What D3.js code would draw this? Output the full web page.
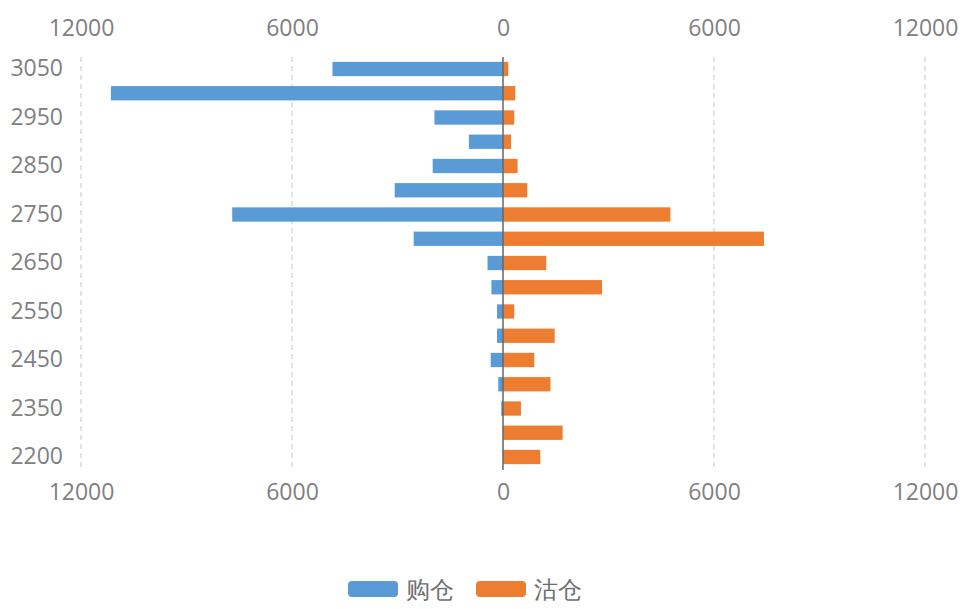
<!DOCTYPE html>
<html>
<head>
<meta charset="utf-8">
<script src="https://cdn.jsdelivr.net/npm/d3@7"></script>
<style>
    body { margin: 0; background: #fff; }
    svg text { font-family: "Open Sans", "Noto Sans", sans-serif; }
</style>
</head>
<body>
<div id="container"><svg></svg></div>
<script>
// data
let categories = ['3050', '3000', '2950', '2900', '2850', '2800', '2750', '2700', '2650',
    '2600', '2550', '2500', '2450', '2400', '2350', '2300', '2200'];
let buy_values = [4850, 11150, 1950, 970, 2000, 3080, 7700, 2540, 440,
    330, 170, 170, 350, 135, 50, 0, 0];
let sell_values = [150, 350, 320, 230, 415, 690, 4760, 7420, 1230,
    2815, 320, 1470, 890, 1350, 510, 1695, 1060];
let tick_values = [0, 6000, 12000];
let series_names = ['购仓', '沽仓'];
let colors = ['#5b9bd5', '#ed7d31'];

let width = 963, height = 609;
let zero_x = 503, left_x = 81, right_x = 925;
let top_y = 57, bottom_y = 469;
let text_color = '#808080';

function draw_main() {
    let svg = d3.select('#container').select('svg')
        .attr('width', width)
        .attr('height', height);

    let x_left = d3.scaleLinear().domain([0, 12000]).range([zero_x, left_x]);
    let x_right = d3.scaleLinear().domain([0, 12000]).range([zero_x, right_x]);
    let y = d3.scaleBand()
        .domain(categories)
        .range([top_y, bottom_y])
        .paddingInner(0.41)
        .paddingOuter(0.2);

    // grid lines (dashed)
    let grid = svg.append('g');
    [x_left, x_right].forEach(sc => {
        grid.selectAll(null)
            .data(tick_values.filter(d => d > 0))
            .enter().append('line')
            .attr('x1', d => sc(d)).attr('x2', d => sc(d))
            .attr('y1', top_y).attr('y2', bottom_y)
            .attr('stroke', '#d0d0d0')
            .attr('stroke-width', 1.2)
            .attr('stroke-dasharray', '5,4');
    });

    // axes top & bottom, left and right halves
    function tick_axis(sc, gen, ypos) {
        let g = svg.append('g')
            .attr('transform', `translate(0, ${ypos})`)
            .call(gen(sc).tickValues(sc === x_right ? tick_values.filter(d => d > 0) : tick_values)
                .tickSize(0).tickPadding(0).tickFormat(d => d));
        g.select('.domain').remove();
        g.selectAll('text')
            .attr('fill', text_color)
            .attr('font-size', '23px')
            .attr('font-family', '"Open Sans", sans-serif');
        return g;
    }
    tick_axis(x_left, d3.axisTop, 36);
    tick_axis(x_right, d3.axisTop, 36);
    tick_axis(x_left, d3.axisBottom, 484);
    tick_axis(x_right, d3.axisBottom, 484);

    // y axis labels, every other category
    let gy = svg.append('g')
        .attr('transform', `translate(63, 0)`)
        .call(d3.axisLeft(y)
            .tickValues(categories.filter((d, i) => i % 2 == 0))
            .tickSize(0).tickPadding(0));
    gy.select('.domain').remove();
    gy.selectAll('text')
        .attr('fill', text_color)
        .attr('font-size', '23px')
        .attr('font-family', '"Open Sans", sans-serif');

    // bars
    svg.append('g')
        .selectAll('rect')
        .data(buy_values)
        .enter().append('rect')
        .attr('x', d => x_left(d))
        .attr('y', (d, i) => y(categories[i]))
        .attr('width', d => zero_x - x_left(d))
        .attr('height', y.bandwidth())
        .attr('fill', colors[0]);

    svg.append('g')
        .selectAll('rect')
        .data(sell_values)
        .enter().append('rect')
        .attr('x', zero_x)
        .attr('y', (d, i) => y(categories[i]))
        .attr('width', d => x_right(d) - zero_x)
        .attr('height', y.bandwidth())
        .attr('fill', colors[1]);

    // zero line
    svg.append('line')
        .attr('x1', zero_x).attr('x2', zero_x)
        .attr('y1', top_y).attr('y2', bottom_y + 1)
        .attr('stroke', '#666')
        .attr('stroke-width', 1.5);

    // legend
    let legend = svg.append('g').attr('transform', 'translate(348, 581)');
    let lx = [0, 128];
    series_names.forEach((name, i) => {
        let item = legend.append('g').attr('transform', `translate(${lx[i]}, 0)`);
        item.append('rect')
            .attr('width', 50).attr('height', 16)
            .attr('rx', 4).attr('ry', 4)
            .attr('fill', colors[i]);
        item.append('text')
            .attr('x', 58).attr('y', 8)
            .attr('dy', '0.36em')
            .attr('fill', '#6e6e6e')
            .attr('font-size', '24px')
            .attr('font-family', '"Noto Sans CJK SC", sans-serif')
            .text(name);
    });
}

draw_main();
</script>
</body>
</html>
